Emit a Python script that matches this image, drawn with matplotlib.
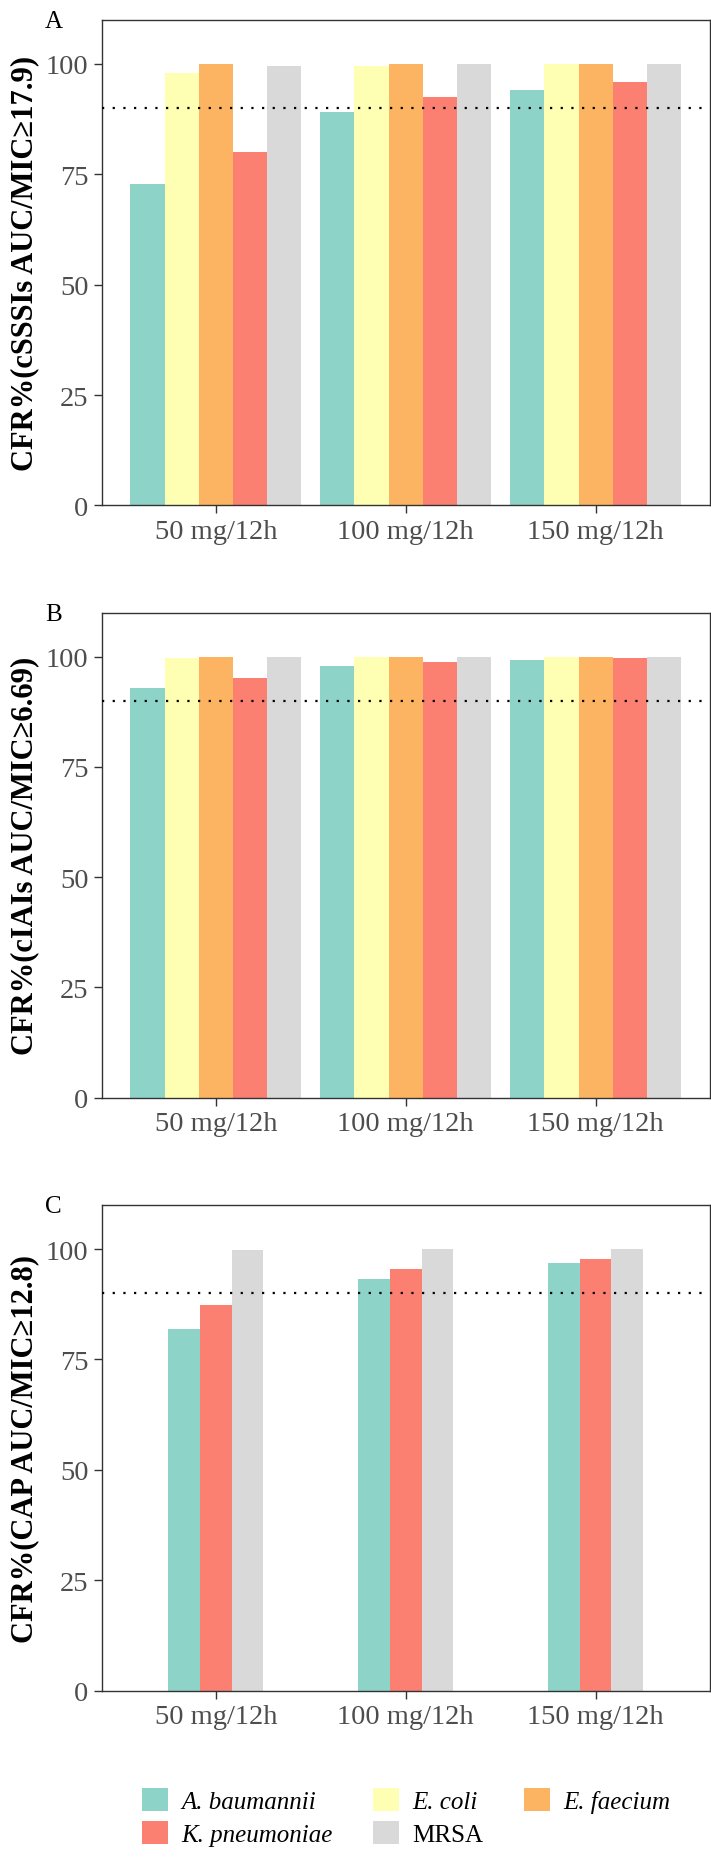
import matplotlib
matplotlib.use('Agg')
import matplotlib.pyplot as plt
from matplotlib.patches import Patch
from matplotlib.font_manager import FontProperties
import numpy as np

plt.rcParams['font.family'] = ['Liberation Serif', 'DejaVu Serif']

# ---------------- data ----------------
doses = ['50 mg/12h', '100 mg/12h', '150 mg/12h']
species = ['A. baumannii', 'E. coli', 'E. faecium', 'K. pneumoniae', 'MRSA']
colors = ['#8DD3C7', '#FFFFB3', '#FDB462', '#FB8072', '#D9D9D9']

# Panel A: cSSSIs AUC/MIC >= 17.9
a_baumannii_A = [72.8, 89.0, 94.1]
e_coli_A = [98.0, 99.6, 99.9]
e_faecium_A = [100.0, 100.0, 100.0]
k_pneumoniae_A = [80.1, 92.6, 96.0]
mrsa_A = [99.6, 99.9, 100.0]

# Panel B: cIAIs AUC/MIC >= 6.69
a_baumannii_B = [92.8, 98.0, 99.3]
e_coli_B = [99.8, 100.0, 100.0]
e_faecium_B = [100.0, 100.0, 100.0]
k_pneumoniae_B = [95.1, 98.8, 99.6]
mrsa_B = [100.0, 100.0, 100.0]

# Panel C: CAP AUC/MIC >= 12.8 (only three species)
a_baumannii_C = [81.8, 93.3, 96.9]
k_pneumoniae_C = [87.3, 95.4, 97.8]
mrsa_C = [99.8, 100.0, 100.0]

target_cfr = 90
y_ticks = [0, 25, 50, 75, 100]

ylabels = ['CFR%(cSSSIs AUC/MIC\u226517.9)',
           'CFR%(cIAIs AUC/MIC\u22656.69)',
           'CFR%(CAP AUC/MIC\u226512.8)']
tags = ['A', 'B', 'C']

panels = [
    (['A. baumannii', 'E. coli', 'E. faecium', 'K. pneumoniae', 'MRSA'],
     [a_baumannii_A, e_coli_A, e_faecium_A, k_pneumoniae_A, mrsa_A], 0.9),
    (['A. baumannii', 'E. coli', 'E. faecium', 'K. pneumoniae', 'MRSA'],
     [a_baumannii_B, e_coli_B, e_faecium_B, k_pneumoniae_B, mrsa_B], 0.9),
    (['A. baumannii', 'K. pneumoniae', 'MRSA'],
     [a_baumannii_C, k_pneumoniae_C, mrsa_C], 0.5),
]

# ---------------- layout (pixels) ----------------
W, H = 711, 1858
fig = plt.figure(figsize=(W / 100, H / 100), dpi=100)
ax_left, ax_right = 102, 709.5
tops = [20.7, 613.6, 1205.9]
bottoms = [506.4, 1098.6, 1691.6]

color_of = dict(zip(species, colors))
x = np.arange(len(doses))

for k in range(3):
    names, vals, total_w = panels[k]
    top, bot = tops[k], bottoms[k]
    ax = fig.add_axes([ax_left / W, 1 - bot / H, (ax_right - ax_left) / W, (bot - top) / H])
    n = len(names)
    w = total_w / n
    for i, (nm, v) in enumerate(zip(names, vals)):
        off = (i - (n - 1) / 2) * w
        ax.bar(x + off, v, w, color=color_of[nm], linewidth=0, zorder=2)
    ax.axhline(target_cfr, color='black', linewidth=1.6, linestyle=(0, (1, 3.8)), zorder=3)
    ax.set_xlim(-0.6, 2.6)
    ax.set_ylim(0, 110)
    ax.set_xticks(x)
    ax.set_xticklabels(doses)
    ax.set_yticks(y_ticks)
    for s in ax.spines.values():
        s.set_color('#333333')
        s.set_linewidth(1.0)
    ax.tick_params(axis='both', direction='out', length=5.7, width=1.0, color='#333333',
                   labelcolor='#4D4D4D', labelsize=20.5, pad=4)
    ax.set_ylabel(ylabels[k], fontsize=22, fontweight='bold', color='black')
    ax.yaxis.set_label_coords((39 - ax_left) / (ax_right - ax_left), 0.5)
    fig.text(45 / W, 1 - (top + 7) / H, tags[k], fontsize=18, ha='left', va='baseline')

# ---------------- legend ----------------
order = ['A. baumannii', 'K. pneumoniae', 'E. coli', 'MRSA', 'E. faecium']
handles = [Patch(facecolor=color_of[s], edgecolor='none') for s in order]
leg = fig.legend(handles, order, loc='center', bbox_to_anchor=(406 / W, 1 - 1818 / H),
                 ncol=3, frameon=False,
                 prop=FontProperties(family=['Liberation Serif', 'DejaVu Serif'], style='italic', size=18),
                 handlelength=1.04, handleheight=1.04, handletextpad=0.55,
                 labelspacing=0.3, columnspacing=1.6)
for t in leg.get_texts():
    if t.get_text() == 'MRSA':
        t.set_fontstyle('normal')

fig.savefig('out.png', dpi=100)
